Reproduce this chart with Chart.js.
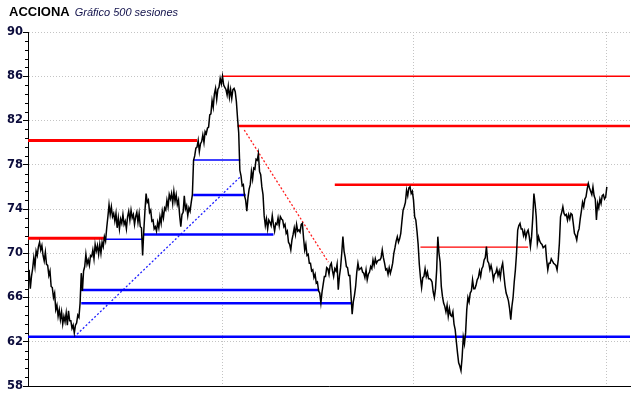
<!DOCTYPE html>
<html><head><meta charset="utf-8">
<script src="https://cdn.jsdelivr.net/npm/chart.js@4"></script>
<style>
html,body{margin:0;padding:0;background:#fff;}
#wrap{position:relative;width:640px;height:398px;}
canvas{position:absolute;left:0;top:0;}
#titulo{position:absolute;left:9px;top:3px;font-family:"Liberation Sans",Arial,sans-serif;line-height:16px;white-space:nowrap;}
#titulo b{font-size:13px;color:#000;}
#titulo i{font-size:11px;color:#10104a;margin-left:5px;}
</style></head><body>
<div id="wrap"><canvas id="c" width="640" height="398"></canvas><div id="titulo"><b>ACCIONA</b><i>Gráfico 500 sesiones</i></div></div>
<script>
// Cierre diario, 500 sesiones
const precio = [
68.5,66.8,67.9,68.6,69.6,68.8,70.2,69.8,70.6,71.0,
70.3,70.7,69.8,69.3,70.1,69.0,68.9,68.0,68.4,67.0,
66.9,66.0,66.4,64.9,65.3,64.3,64.9,64.0,64.7,63.6,
64.3,63.8,64.6,63.5,64.8,63.9,63.9,63.2,63.5,62.8,
63.5,63.7,64.4,64.2,65.5,68.2,66.6,68.4,68.8,69.9,
69.0,69.4,68.9,69.8,69.7,70.3,69.5,70.8,70.2,70.7,
69.9,70.8,70.0,71.0,70.6,71.5,71.1,72.3,73.3,74.4,
73.5,74.2,73.3,73.6,72.9,73.6,72.3,73.2,72.2,73.1,
72.7,73.5,72.6,72.9,72.2,73.3,73.8,73.0,73.9,73.2,
73.5,72.6,73.3,73.7,72.8,73.6,72.4,72.3,69.8,72.0,
73.8,75.4,74.6,74.8,73.7,73.9,72.9,73.0,72.2,72.4,
72.0,72.8,72.3,73.3,72.7,73.8,73.2,74.1,73.9,74.8,
74.2,75.3,74.9,75.4,74.5,75.6,74.7,75.3,74.4,74.8,
73.4,72.4,73.5,73.7,75.2,74.0,74.3,73.4,74.1,73.8,
74.6,75.3,78.4,78.8,79.5,79.6,80.2,79.2,79.9,80.1,
80.7,80.0,81.0,80.8,81.3,81.4,82.5,82.6,83.8,83.2,
84.4,84.9,83.9,84.8,85.0,85.8,85.3,86.0,85.2,85.0,
84.8,84.3,85.1,84.1,84.8,84.0,84.8,84.9,84.6,83.7,
82.2,80.9,77.5,77.0,76.1,76.2,75.2,74.8,73.8,75.0,
75.8,76.2,77.4,76.7,77.7,77.6,78.5,78.4,79.0,77.4,
77.1,76.0,75.3,73.4,72.5,73.1,72.2,73.0,72.8,72.5,
73.4,72.6,72.0,72.7,72.6,73.2,72.5,73.3,73.1,73.0,
72.4,72.6,71.8,72.0,71.0,70.8,70.3,71.2,71.7,72.3,
71.7,72.6,72.0,72.1,71.9,72.6,72.7,71.4,70.3,70.8,
69.8,69.9,69.1,69.1,68.4,68.5,67.8,68.1,67.3,67.4,
66.6,66.4,65.5,66.5,67.2,67.9,67.9,68.7,68.6,68.1,
68.9,69.1,68.4,67.9,68.6,68.4,69.0,66.7,67.9,68.7,
70.0,71.5,70.2,69.6,68.8,68.7,68.0,68.0,66.2,64.5,
65.6,66.2,67.0,68.3,69.1,68.5,68.6,68.7,68.3,68.2,
67.8,68.5,67.6,68.1,68.3,68.8,68.6,69.4,68.9,69.5,
69.1,69.3,69.4,69.4,69.6,70.3,69.6,69.1,68.5,68.6,
68.1,68.7,68.2,68.6,69.1,70.0,70.5,71.1,71.5,71.0,
71.3,71.8,72.9,73.9,74.2,74.6,75.7,75.2,75.9,76.0,
75.4,75.6,74.8,73.3,73.0,72.0,70.8,69.0,67.8,66.9,
67.8,67.9,68.6,67.9,68.3,67.7,67.7,67.6,67.4,66.5,
66.0,66.8,68.5,71.5,70.0,69.2,67.0,66.1,65.5,65.2,
64.7,65.3,64.3,65.0,64.4,64.3,64.7,63.6,63.1,62.0,
61.0,60.1,59.8,59.4,60.6,62.4,61.8,62.8,64.9,66.0,
65.6,66.4,66.6,67.6,66.8,66.8,67.1,67.6,67.8,68.4,
67.9,68.6,68.8,69.4,69.6,70.6,69.3,69.1,68.5,68.9,
68.4,67.6,68.1,68.2,68.6,68.0,68.4,67.8,68.7,69.1,
68.1,67.1,66.4,66.1,65.7,65.0,64.0,65.2,66.0,67.4,
68.5,70.0,72.1,72.5,72.7,72.2,72.2,71.6,72.0,71.4,
71.9,72.1,71.5,70.6,71.5,73.2,75.4,74.5,73.3,70.9,
71.5,71.1,70.9,70.8,70.5,70.6,70.7,69.4,68.5,69.1,
69.1,69.5,69.3,69.1,69.0,68.9,68.5,69.4,70.9,73.3,
73.7,74.2,73.6,73.4,73.5,73.0,73.5,73.1,73.6,73.5,
72.7,71.8,71.6,71.2,71.9,72.2,73.1,73.8,74.6,74.2,
74.9,75.1,75.8,76.3,75.9,75.6,75.3,76.0,75.2,74.9,
73.0,74.5,74.1,74.9,74.5,75.2,75.3,74.9,75.1,76.0
];

// Eje de sesiones y eje de precios
const X_MIN = -1, X_MAX = 519;
const separadores = [167, 332, 499];
const Y_MIN = 58, Y_MAX = 90, Y_PASO = 4, Y_PASO_MENOR = 0.8;

// Resistencias (rojo) y soportes (azul): nivel, sesión inicial, sesión final
const nivelesRojos = [80.2, 86.0, 81.5, 76.2, 71.35, 70.55];
const desdeRojos   = [X_MIN, 167, 180, 264, X_MIN, 338];
const hastaRojos   = [145, X_MAX, X_MAX, 483, 65, 431];

const nivelesAzules = [62.45, 66.67, 65.48, 71.26, 71.7, 75.26, 78.43];
const desdeAzules   = [X_MIN, 44.5, 45, 65, 99, 141.7, 141.7];
const hastaAzules   = [X_MAX, 250.5, 279, 98.5, 211, 187, 182.3];

// Líneas de tendencia: [sesión, precio]
const tendenciaAlcista = [[38.9, 62.43], [182.3, 76.9]];
const tendenciaBajista = [[185.8, 81.14], [258.4, 69.2]];

// estilos
const grosorRojos  = [3, 1.5, 2.5, 2.5, 3, 1.2];
const grosorAzules = [2.6, 2.5, 2.5, 1.4, 2.4, 2.5, 1.4];

function segmento(x1, y1, x2, y2){ return [{x:x1,y:y1},{x:x2,y:y2}]; }

const datasets = [{
  data: precio.map((v,i)=>({x:i,y:v})),
  borderColor:'#000', borderWidth:1.5, pointRadius:0, tension:0, order:0
}];
nivelesRojos.forEach((v,k)=>datasets.push({
  data: segmento(desdeRojos[k], v, hastaRojos[k], v),
  borderColor:'#ff0000', borderWidth:grosorRojos[k], pointRadius:0, order:1
}));
nivelesAzules.forEach((v,k)=>datasets.push({
  data: segmento(desdeAzules[k], v, hastaAzules[k], v),
  borderColor:'#0000ff', borderWidth:grosorAzules[k], pointRadius:0, order:1
}));
datasets.push({
  data: segmento(tendenciaAlcista[0][0], tendenciaAlcista[0][1], tendenciaAlcista[1][0], tendenciaAlcista[1][1]),
  borderColor:'#2020ff', borderWidth:1.3, borderDash:[2,2], pointRadius:0, order:1
});
datasets.push({
  data: segmento(tendenciaBajista[0][0], tendenciaBajista[0][1], tendenciaBajista[1][0], tendenciaBajista[1][1]),
  borderColor:'#ff2020', borderWidth:1.3, borderDash:[2,2], pointRadius:0, order:1
});

const marcasMenores = {
  id:'marcasMenores',
  afterDraw(chart){
    const s = chart.scales.y, ctx = chart.ctx;
    ctx.save(); ctx.strokeStyle='#000'; ctx.lineWidth=1; ctx.beginPath();
    const n = Math.round((Y_MAX-Y_MIN)/Y_PASO_MENOR);
    const cada = Math.round(Y_PASO/Y_PASO_MENOR);
    for(let k=0;k<=n;k++){
      if(k%cada===0) continue;
      const y = Math.round(s.getPixelForValue(Y_MIN+k*Y_PASO_MENOR))+0.5;
      ctx.moveTo(s.right-3,y); ctx.lineTo(s.right,y);
    }
    ctx.stroke(); ctx.restore();
  }
};

new Chart(document.getElementById('c'), {
  type:'line',
  data:{datasets},
  plugins:[marcasMenores],
  options:{
    responsive:false, animation:false,
    layout:{padding:{left:0, top:32, right:10, bottom:12}},
    plugins:{legend:{display:false}, tooltip:{enabled:false}, title:{display:false}},
    scales:{
      x:{type:'linear', min:X_MIN, max:X_MAX,
         afterBuildTicks:s=>{ s.ticks = separadores.map(v=>({value:v})); },
         ticks:{display:false},
         grid:{color:'#c4c4c4', lineWidth:1, drawTicks:false},
         border:{display:true, color:'#000', width:1, dash:[1,2]},
         afterFit:s=>{ s.height = 0; }},
      y:{min:Y_MIN, max:Y_MAX,
         ticks:{stepSize:Y_PASO, padding:0, color:'#0c0c3c',
                font:{family:'"DejaVu Sans", Verdana, sans-serif', weight:'bold', size:11.5}},
         grid:{color:'#c4c4c4', lineWidth:1, drawTicks:true, tickLength:5, tickColor:'#000', tickBorderDash:[1,0]},
         border:{display:true, color:'#000', width:1, dash:[1,2]},
         afterFit:s=>{ s.width = 28; }}
    }
  }
});
</script>
</body></html>
